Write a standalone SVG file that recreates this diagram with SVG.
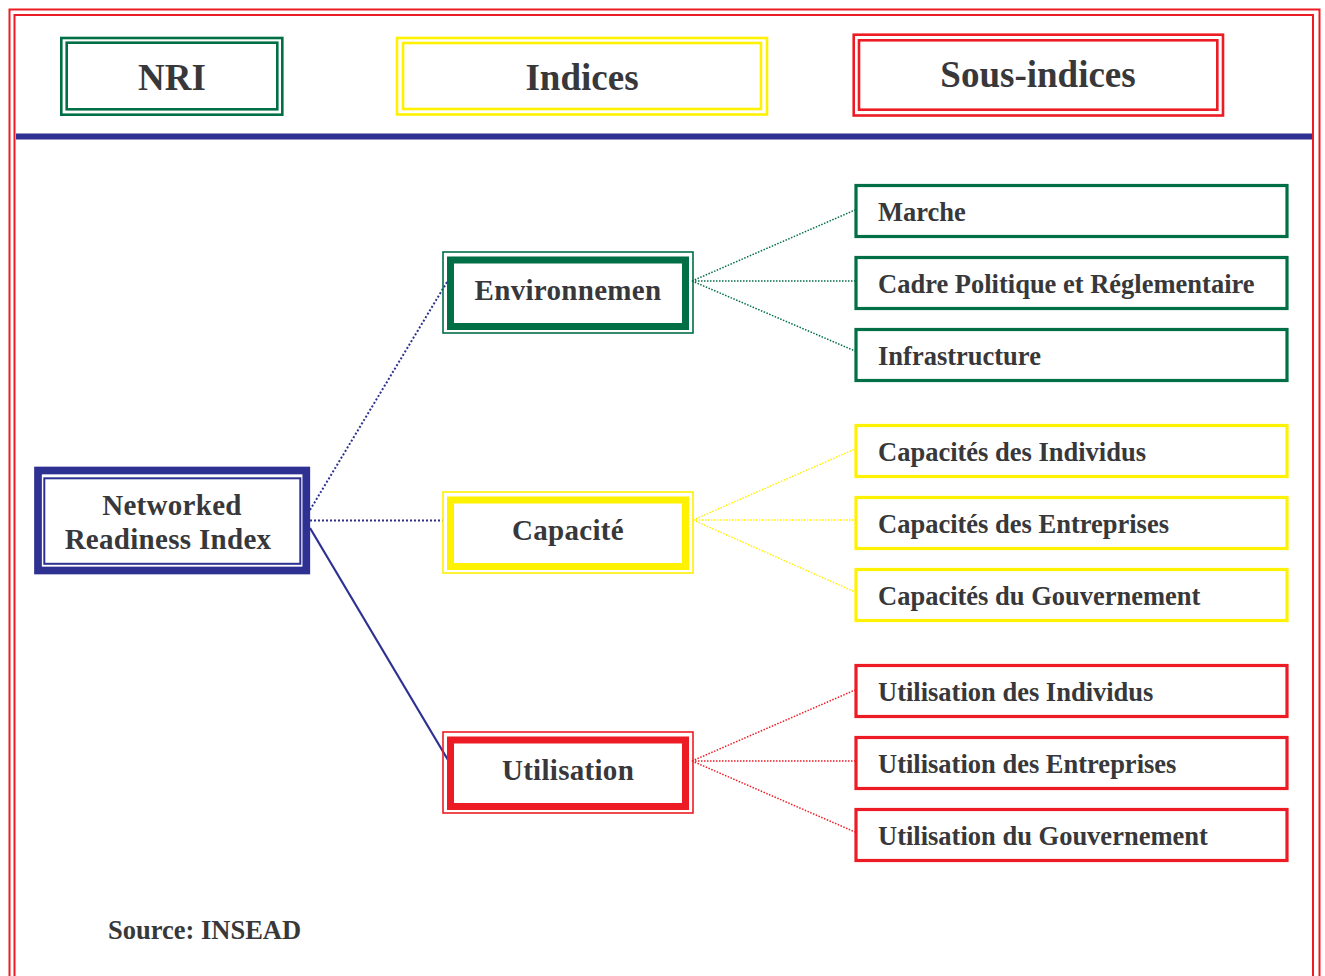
<svg xmlns="http://www.w3.org/2000/svg" width="1325" height="976" viewBox="0 0 1325 976">
<style>
.t{font-family:"Liberation Serif","Times New Roman",serif;font-weight:bold;fill:#38383b}
.hd{font-size:37px;text-anchor:middle}
.ix{font-size:29px;text-anchor:middle;letter-spacing:0.3px}
.sb{font-size:26.5px}
.g{stroke:#006f46}
.y{stroke:#fff200}
.r{stroke:#ed1c24}
.b{stroke:#2e3192}
.box{fill:#fff}
.thin{fill:none;stroke-width:2.6}
.sub{fill:#fff;stroke-width:3.2}
.ithin{fill:none;stroke-width:1.6}
.ithick{fill:none;stroke-width:7}
.dot{fill:none;stroke-width:1.5;stroke-dasharray:1.5 1.5}
.bdot{fill:none;stroke-width:2;stroke-dasharray:2 2}
</style>
<rect width="1325" height="976" fill="#fff"/>
<!-- frame -->
<g id="frame" fill="none">
  <rect x="9.5" y="9.5" width="1310" height="1000" class="r" stroke-width="2"/>
  <rect x="14.5" y="15" width="1298.5" height="1000" class="r" stroke-width="2"/>
  <line x1="16" y1="136.5" x2="1312" y2="136.5" class="b" stroke-width="6"/>
</g>
<!-- headers -->
<g id="hdr-nri">
  <rect x="61.3" y="38" width="221" height="76.7" class="thin g"/>
  <rect x="66.7" y="42.7" width="210.6" height="66.6" class="thin g"/>
  <text x="172" y="90" class="t hd">NRI</text>
</g>
<g id="hdr-indices">
  <rect x="397" y="38" width="370" height="76.5" class="thin y"/>
  <rect x="403" y="43" width="358" height="66" class="thin y"/>
  <text x="582" y="90" class="t hd">Indices</text>
</g>
<g id="hdr-sous">
  <rect x="853.7" y="34.7" width="369.3" height="80.8" class="thin r"/>
  <rect x="859" y="40.3" width="358.3" height="69.4" class="thin r"/>
  <text x="1038" y="87" class="t hd">Sous-indices</text>
</g>
<!-- connectors -->
<g id="connectors">
  <line x1="310" y1="510" x2="447" y2="282" class="bdot b"/>
  <line x1="310" y1="520.5" x2="443" y2="520.5" class="bdot b"/>
  <line x1="310" y1="528" x2="448" y2="760" class="b" stroke-width="2.2"/>
  <line x1="692" y1="281" x2="855" y2="210" class="dot g"/>
  <line x1="692" y1="281" x2="855" y2="281" class="dot g"/>
  <line x1="692" y1="281" x2="855" y2="351" class="dot g"/>
  <line x1="693" y1="520" x2="855" y2="449" class="dot y"/>
  <line x1="693" y1="520" x2="855" y2="520" class="dot y"/>
  <line x1="693" y1="520" x2="855" y2="592" class="dot y"/>
  <line x1="692" y1="761" x2="855" y2="690" class="dot r"/>
  <line x1="692" y1="761" x2="855" y2="761" class="dot r"/>
  <line x1="692" y1="761" x2="855" y2="832" class="dot r"/>
</g>
<!-- root -->
<g id="nri">
  <rect x="38" y="470.5" width="268.3" height="100" class="box b" stroke-width="7.7"/>
  <rect x="44.3" y="478.3" width="256" height="85.5" fill="none" class="b" stroke-width="2"/>
  <text x="172" y="515" class="t ix">Networked</text>
  <text x="168" y="549" class="t ix">Readiness Index</text>
</g>
<!-- indices -->
<g id="env">
  <rect x="443" y="252" width="250" height="81" class="ithin g box"/>
  <rect x="450.5" y="260" width="235" height="66.5" class="ithick g"/>
  <text x="568" y="300" class="t ix">Environnemen</text>
</g>
<g id="cap">
  <rect x="443" y="492" width="250" height="81" class="ithin y box"/>
  <rect x="450.5" y="500" width="235" height="66.5" class="ithick y"/>
  <text x="568" y="540" class="t ix">Capacité</text>
</g>
<g id="util">
  <rect x="443" y="732" width="250" height="81" class="ithin r box"/>
  <rect x="450.5" y="740" width="235" height="66.5" class="ithick r"/>
  <text x="568" y="780" class="t ix">Utilisation</text>
</g>
<!-- sub-indices -->
<g id="s-marche"><rect x="856" y="185.5" width="431" height="51" class="sub g"/><text x="878" y="221" class="t sb">Marche</text></g>
<g id="s-cadre"><rect x="856" y="257.5" width="431" height="51" class="sub g"/><text x="878" y="293" class="t sb">Cadre Politique et Réglementaire</text></g>
<g id="s-infra"><rect x="856" y="329.5" width="431" height="51" class="sub g"/><text x="878" y="365" class="t sb">Infrastructure</text></g>
<g id="s-capind"><rect x="856" y="425.5" width="431" height="51" class="sub y"/><text x="878" y="461" class="t sb">Capacités des Individus</text></g>
<g id="s-capent"><rect x="856" y="497.5" width="431" height="51" class="sub y"/><text x="878" y="533" class="t sb">Capacités des Entreprises</text></g>
<g id="s-capgov"><rect x="856" y="569.5" width="431" height="51" class="sub y"/><text x="878" y="605" class="t sb">Capacités du Gouvernement</text></g>
<g id="s-utind"><rect x="856" y="665.5" width="431" height="51" class="sub r"/><text x="878" y="701" class="t sb">Utilisation des Individus</text></g>
<g id="s-utent"><rect x="856" y="737.5" width="431" height="51" class="sub r"/><text x="878" y="773" class="t sb">Utilisation des Entreprises</text></g>
<g id="s-utgov"><rect x="856" y="809.5" width="431" height="51" class="sub r"/><text x="878" y="845" class="t sb">Utilisation du Gouvernement</text></g>
<text x="108" y="939" class="t sb">Source: INSEAD</text>
</svg>
